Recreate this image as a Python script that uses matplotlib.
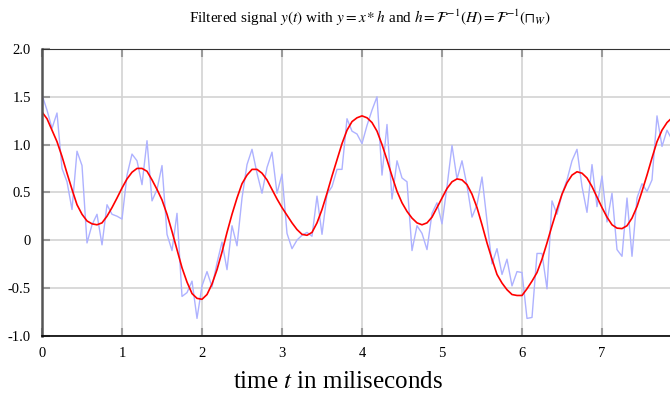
import numpy as np
import matplotlib
matplotlib.use('agg')
import matplotlib.pyplot as plt

# samples every 1/16 ms
dt = 1.0 / 16
noisy = [1.52, 1.36, 1.17, 1.33, 0.75, 0.61, 0.32, 0.93, 0.78, -0.03,
         0.16, 0.27, -0.05, 0.37, 0.27, 0.25, 0.22, 0.68, 0.90, 0.83,
         0.58, 1.04, 0.41, 0.53, 0.78, 0.06, -0.11, 0.28, -0.59, -0.55,
         -0.43, -0.82, -0.48, -0.33, -0.49, -0.24, -0.02, -0.31, 0.15, -0.06,
         0.44, 0.79, 0.95, 0.70, 0.49, 0.76, 0.92, 0.49, 0.69, 0.07,
         -0.09, 0.00, 0.05, 0.08, 0.04, 0.46, 0.06, 0.48, 0.56, 0.74,
         0.74, 1.27, 1.14, 1.11, 1.01, 1.20, 1.36, 1.50, 0.68, 1.21,
         0.43, 0.83, 0.65, 0.61, -0.11, 0.15, 0.07, -0.10, 0.28, 0.39,
         0.17, 0.56, 0.99, 0.64, 0.83, 0.57, 0.24, 0.37, 0.66, 0.20,
         -0.25, -0.09, -0.36, -0.20, -0.48, -0.33, -0.34, -0.82, -0.81, -0.14,
         -0.14, -0.51, 0.41, 0.27, 0.48, 0.63, 0.83, 0.95, 0.56, 0.29,
         0.79, 0.35, 0.67, 0.19, 0.49, -0.10, -0.17, 0.44, -0.17, 0.44,
         0.59, 0.51, 0.63, 1.30, 0.98, 1.15, 1.05]
filtered = [1.34, 1.27, 1.15, 1.03, 0.875, 0.70, 0.53, 0.37, 0.27, 0.20,
            0.17, 0.16, 0.18, 0.25, 0.34, 0.44, 0.545, 0.64, 0.71, 0.75,
            0.75, 0.72, 0.63, 0.53, 0.42, 0.27, 0.09, -0.10, -0.29, -0.44,
            -0.56, -0.61, -0.62, -0.57, -0.46, -0.31, -0.125, 0.08, 0.27, 0.44,
            0.59, 0.68, 0.74, 0.74, 0.70, 0.63, 0.53, 0.43, 0.34, 0.26,
            0.18, 0.11, 0.06, 0.05, 0.08, 0.18, 0.32, 0.49, 0.67, 0.84,
            1.01, 1.15, 1.24, 1.28, 1.30, 1.28, 1.23, 1.14, 1.00, 0.84,
            0.67, 0.51, 0.39, 0.30, 0.23, 0.18, 0.16, 0.18, 0.24, 0.34,
            0.44, 0.54, 0.61, 0.64, 0.63, 0.58, 0.48, 0.34, 0.16, -0.03,
            -0.20, -0.36, -0.45, -0.52, -0.57, -0.58, -0.58, -0.51, -0.43, -0.34,
            -0.20, -0.03, 0.15, 0.32, 0.48, 0.60, 0.68, 0.715, 0.70, 0.65,
            0.56, 0.45, 0.34, 0.24, 0.16, 0.125, 0.12, 0.15, 0.23, 0.35,
            0.51, 0.68, 0.86, 1.03, 1.15, 1.23, 1.28]
t = np.arange(len(noisy)) * dt

xticks = [0, 1, 2, 3, 4, 5, 6, 7]
yticks = [-1.0, -0.5, 0, 0.5, 1.0, 1.5, 2.0]
ylabels = ['-1.0', '-0.5', '0', '0.5', '1.0', '1.5', '2.0']

plt.rcParams['font.family'] = 'Liberation Serif'
plt.rcParams['mathtext.fontset'] = 'stix'

fig = plt.figure(figsize=(6.7, 4.0), dpi=100)
ax = fig.add_axes([0.0627, 0.161, 0.9373, 0.7165])

ax.plot(t, noisy, color='#aeb2ff', lw=1.0)
ax.plot(t, filtered, color='red', lw=1.2)

ax.set_xlim(0, 7.85)
ax.set_ylim(-1.0, 2.0)
ax.set_xticks(xticks)
ax.set_yticks(yticks)
ax.set_yticklabels(ylabels)
ax.grid(True, color='#d3d3d3', lw=1.2)
ax.set_axisbelow(True)
ax.tick_params(direction='in', length=6, width=1.5, color='#9a9a9a',
               top=True, left=True, labelsize=10.5, pad=8)
ax.spines['right'].set_visible(False)
ax.spines['left'].set_color('#555555')
ax.spines['left'].set_linewidth(1.8)
ax.spines['top'].set_color('#333333')
ax.spines['bottom'].set_color('black')
ax.spines['bottom'].set_linewidth(1.2)

ax.set_xlabel('time $t$ in miliseconds', fontsize=18)
ax.xaxis.set_label_coords(0.471, -0.125)
fig.text(0.552, 0.955,
         r'Filtered signal $y(t)$ with $y = x * h$ and $h = \mathcal{F}^{-1}(H) = \mathcal{F}^{-1}(\sqcap_W)$',
         ha='center', va='center', fontsize=11)

fig.savefig('out.png', dpi=100)
